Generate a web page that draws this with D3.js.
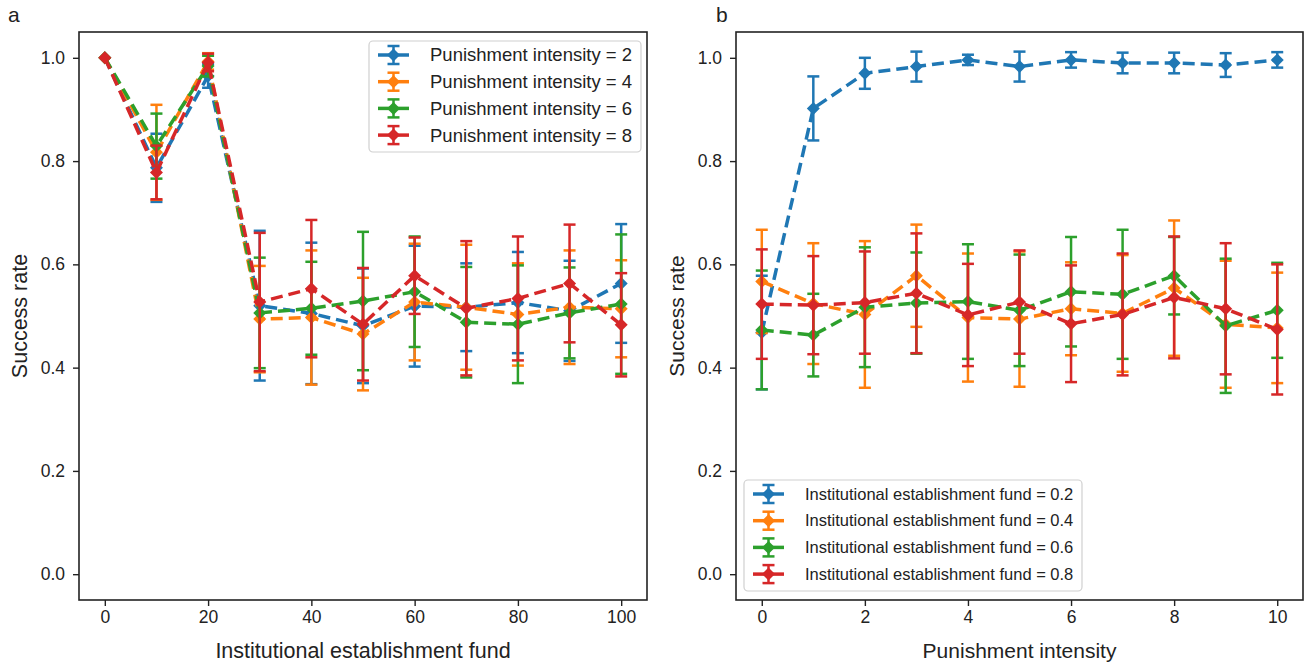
<!DOCTYPE html>
<meta charset="utf-8">
<head>
  <script src="https://d3js.org/d3.v7.min.js"></script>
  <style>
    body { margin: 0; background: white; }
    text { font-family: "Liberation Sans", Arial, sans-serif; fill: #222; }
  </style>
</head>
<body>
<div id="chart"></div>
<script>
// ---- data ----
var fundX = [0, 10, 20, 30, 40, 50, 60, 70, 80, 90, 100];
var punishLabels = ["Punishment intensity = 2", "Punishment intensity = 4", "Punishment intensity = 6", "Punishment intensity = 8"];
var p2 = [1.0, 0.787, 0.965, 0.52, 0.505, 0.481, 0.519, 0.517, 0.526, 0.51, 0.563];
var p2Err = [0, 0.066, 0.023, 0.145, 0.137, 0.111, 0.117, 0.085, 0.098, 0.097, 0.115];
var p4 = [1.0, 0.817, 0.993, 0.494, 0.497, 0.465, 0.527, 0.517, 0.503, 0.517, 0.514];
var p4Err = [0, 0.092, 0.016, 0.103, 0.13, 0.109, 0.113, 0.121, 0.099, 0.11, 0.094];
var p6 = [1.0, 0.829, 0.984, 0.506, 0.515, 0.529, 0.547, 0.488, 0.484, 0.506, 0.523];
var p6Err = [0, 0.063, 0.02, 0.107, 0.09, 0.134, 0.107, 0.107, 0.114, 0.088, 0.135];
var p8 = [1.0, 0.778, 0.991, 0.527, 0.553, 0.484, 0.578, 0.515, 0.534, 0.563, 0.483];
var p8Err = [0, 0.052, 0.017, 0.134, 0.133, 0.109, 0.074, 0.13, 0.12, 0.114, 0.1];

var punishX = [0, 1, 2, 3, 4, 5, 6, 7, 8, 9, 10];
var fundLabels = ["Institutional establishment fund = 0.2", "Institutional establishment fund = 0.4", "Institutional establishment fund = 0.6", "Institutional establishment fund = 0.8"];
var f02 = [0.468, 0.902, 0.97, 0.983, 0.996, 0.983, 0.996, 0.99, 0.99, 0.986, 0.996];
var f02Err = [0.11, 0.062, 0.03, 0.029, 0.01, 0.029, 0.015, 0.02, 0.02, 0.023, 0.015];
var f04 = [0.567, 0.524, 0.503, 0.578, 0.497, 0.494, 0.514, 0.505, 0.554, 0.484, 0.477];
var f04Err = [0.1, 0.117, 0.142, 0.099, 0.124, 0.131, 0.09, 0.113, 0.131, 0.123, 0.107];
var f06 = [0.473, 0.463, 0.517, 0.525, 0.528, 0.511, 0.547, 0.542, 0.578, 0.481, 0.511];
var f06Err = [0.115, 0.08, 0.116, 0.098, 0.111, 0.108, 0.106, 0.125, 0.075, 0.13, 0.092];
var f08 = [0.523, 0.521, 0.526, 0.544, 0.502, 0.527, 0.485, 0.503, 0.536, 0.514, 0.474];
var f08Err = [0.106, 0.095, 0.099, 0.116, 0.099, 0.1, 0.113, 0.118, 0.118, 0.127, 0.126];

var yTicks = [0.0, 0.2, 0.4, 0.6, 0.8, 1.0];
var fundTicks = [0, 20, 40, 60, 80, 100];
var punishTicks = [0, 2, 4, 6, 8, 10];
var colors = ["#1f77b4", "#ff7f0e", "#2ca02c", "#d62728"];

// ---- drawing ----
var W = 1307, H = 663;
var svg = d3.select("#chart").append("svg")
  .attr("width", W).attr("height", H);

var y = d3.scaleLinear().domain([-0.05, 1.05]).range([600, 32]);

function diamond(g, cx, cy, color) {
  var r = 6.5;
  g.append("path")
    .attr("d", "M" + cx + "," + (cy - r) + "L" + (cx + r) + "," + cy + "L" + cx + "," + (cy + r) + "L" + (cx - r) + "," + cy + "Z")
    .attr("fill", color);
}

function drawPanel(opts) {
  var x = d3.scaleLinear().domain(opts.xDomain).range(opts.xRange);
  var g = svg.append("g");
  var x0 = opts.xRange[0], x1 = opts.xRange[1];

  // axes
  var xAxis = g.append("g")
    .attr("transform", "translate(0,600)")
    .call(d3.axisBottom(x).tickValues(opts.xTicks).tickSize(6).tickSizeOuter(0).tickPadding(5));
  var yAxis = g.append("g")
    .attr("transform", "translate(" + x0 + ",0)")
    .call(d3.axisLeft(y).tickValues(yTicks).tickSize(6).tickSizeOuter(0).tickPadding(8).tickFormat(d3.format(".1f")));
  [xAxis, yAxis].forEach(function (a) {
    a.select(".domain").remove();
    a.selectAll(".tick line").attr("stroke", "#222").attr("stroke-width", 1.4);
    a.selectAll(".tick text").style("font-size", "17.5px").style("font-family", "Liberation Sans, Arial, sans-serif").attr("fill", "#222");
  });

  // series
  opts.series.forEach(function (s, i) {
    var sg = g.append("g");
    var c = colors[i];
    s.values.forEach(function (v, j) {
      var e = s.err[j];
      if (e <= 0) return;
      var cx = x(opts.xs[j]);
      sg.append("line").attr("x1", cx).attr("x2", cx).attr("y1", y(v - e)).attr("y2", y(v + e))
        .attr("stroke", c).attr("stroke-width", 2.5);
      [v - e, v + e].forEach(function (cv) {
        sg.append("line").attr("x1", cx - 6).attr("x2", cx + 6).attr("y1", y(cv)).attr("y2", y(cv))
          .attr("stroke", c).attr("stroke-width", 2.5);
      });
    });
    var line = d3.line().x(function (d, j) { return x(opts.xs[j]); }).y(function (d) { return y(d); });
    sg.append("path").datum(s.values).attr("d", line)
      .attr("fill", "none").attr("stroke", c).attr("stroke-width", 3.5)
      .attr("stroke-dasharray", "12,6");
    s.values.forEach(function (v, j) { diamond(sg, x(opts.xs[j]), y(v), c); });
  });

  // frame
  g.append("rect").attr("x", x0).attr("y", 32).attr("width", x1 - x0).attr("height", 568)
    .attr("fill", "none").attr("stroke", "#222").attr("stroke-width", 1.6);

  // labels
  g.append("text").attr("x", (x0 + x1) / 2).attr("y", 658).attr("text-anchor", "middle")
    .style("font-size", opts.labelSize).text(opts.xLabel);
  g.append("text").attr("transform", "translate(" + (x0 - 52) + ",316) rotate(-90)")
    .attr("text-anchor", "middle").style("font-size", opts.labelSize).text("Success rate");
  g.append("text").attr("x", opts.panelX).attr("y", 22).style("font-size", "21px").text(opts.panel);

  // legend
  var L = opts.legend;
  var lg = g.append("g");
  lg.append("rect").attr("x", L.x).attr("y", L.y).attr("width", L.w).attr("height", L.h)
    .attr("rx", 4).attr("fill", "white").attr("fill-opacity", 0.85)
    .attr("stroke", "#d0d0d0").attr("stroke-width", 1.2);
  opts.series.forEach(function (s, i) {
    var ry = L.y + L.top + i * L.step;
    var c = colors[i];
    var hx = L.x + 9, hw = 31, hc = hx + hw / 2;
    lg.append("line").attr("x1", hx).attr("x2", hx + hw).attr("y1", ry).attr("y2", ry)
      .attr("stroke", c).attr("stroke-width", 3.5);
    lg.append("line").attr("x1", hc).attr("x2", hc).attr("y1", ry - 9).attr("y2", ry + 9)
      .attr("stroke", c).attr("stroke-width", 2.5);
    [ry - 9, ry + 9].forEach(function (cy) {
      lg.append("line").attr("x1", hc - 6).attr("x2", hc + 6).attr("y1", cy).attr("y2", cy)
        .attr("stroke", c).attr("stroke-width", 2.5);
    });
    diamond(lg, hc, ry, c);
    lg.append("text").attr("x", L.x + L.textDx).attr("y", ry).attr("dy", "0.35em")
      .style("font-size", L.fontSize).text(s.label);
  });
}

drawPanel({
  xDomain: [-5, 105], xRange: [79, 647], xTicks: fundTicks, xs: fundX,
  xLabel: "Institutional establishment fund", panel: "a", panelX: 8, labelSize: "21.5px",
  series: [
    { label: punishLabels[0], values: p2, err: p2Err },
    { label: punishLabels[1], values: p4, err: p4Err },
    { label: punishLabels[2], values: p6, err: p6Err },
    { label: punishLabels[3], values: p8, err: p8Err }
  ],
  legend: { x: 369, y: 41, w: 272, h: 111, top: 14, step: 26.7, textDx: 61, fontSize: "18.5px" }
});

drawPanel({
  xDomain: [-0.5, 10.5], xRange: [736, 1303], xTicks: punishTicks, xs: punishX,
  xLabel: "Punishment intensity", panel: "b", panelX: 716, labelSize: "21px",
  series: [
    { label: fundLabels[0], values: f02, err: f02Err },
    { label: fundLabels[1], values: f04, err: f04Err },
    { label: fundLabels[2], values: f06, err: f06Err },
    { label: fundLabels[3], values: f08, err: f08Err }
  ],
  legend: { x: 744, y: 480, w: 338, h: 111, top: 14, step: 26.7, textDx: 61, fontSize: "16.5px" }
});
</script>
</body>
</html>
